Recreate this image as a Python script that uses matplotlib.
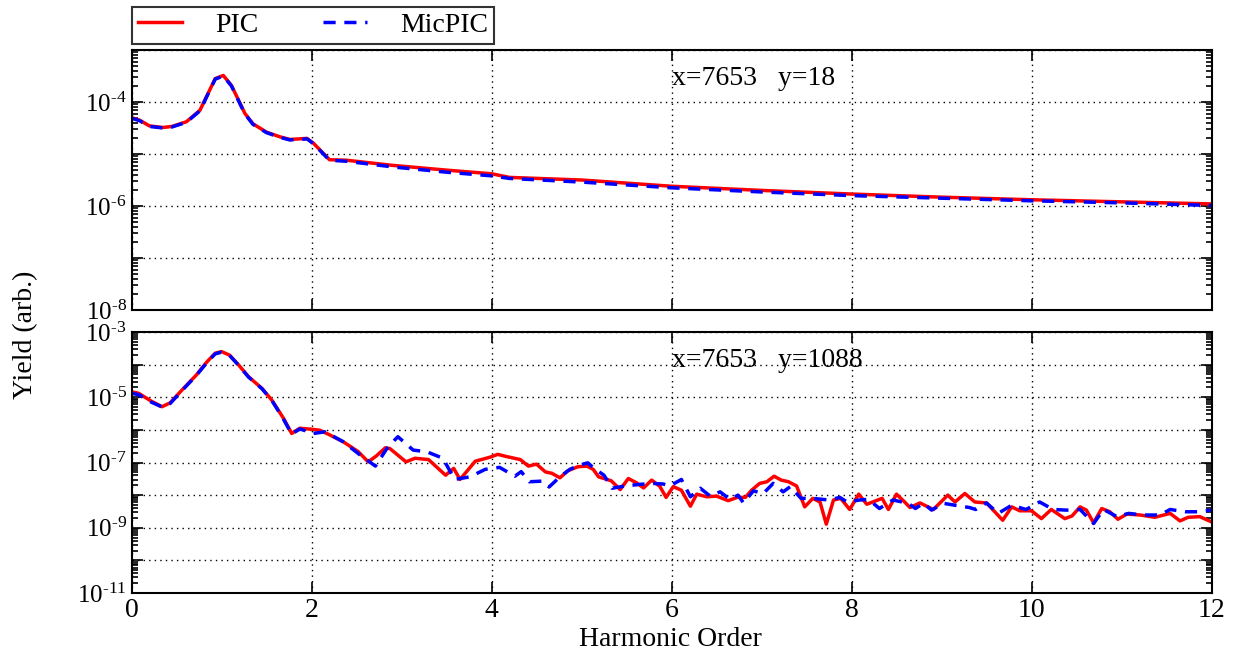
import numpy as np
import matplotlib
matplotlib.use("Agg")
import matplotlib.pyplot as plt
from matplotlib.ticker import LogLocator, FuncFormatter, NullFormatter, MultipleLocator
from matplotlib.transforms import blended_transform_factory

plt.rcParams["font.family"] = ["Liberation Serif", "DejaVu Serif"]
plt.rcParams["mathtext.fontset"] = "custom"
plt.rcParams["mathtext.rm"] = "Liberation Serif"
plt.rcParams["mathtext.it"] = "Liberation Serif"

# ---- top panel (x=7653, y=18), log10 yield ----
top_pic_x = [0.00, 0.09, 0.20, 0.35, 0.45, 0.61, 0.76, 0.93, 1.02, 1.11, 1.26, 1.35, 1.50,
             1.65, 1.76, 1.95, 2.02, 2.20, 2.39, 2.91, 3.5, 4.0, 4.2, 5.0, 6.0, 7.0, 8.0,
             9.0, 10.0, 11.0, 12.0]
top_pic_l = [-4.30, -4.35, -4.46, -4.49, -4.47, -4.38, -4.16, -3.55, -3.49, -3.68, -4.22, -4.42,
             -4.58, -4.67, -4.72, -4.70, -4.79, -5.11, -5.12, -5.22, -5.31, -5.38, -5.45,
             -5.50, -5.62, -5.70, -5.77, -5.83, -5.88, -5.92, -5.96]
top_mic_x = top_pic_x
top_mic_l = [-4.31, -4.36, -4.47, -4.50, -4.48, -4.39, -4.17, -3.56, -3.50, -3.69, -4.23, -4.43,
             -4.59, -4.68, -4.73, -4.71, -4.80, -5.12, -5.14, -5.25, -5.35, -5.42, -5.47,
             -5.54, -5.65, -5.73, -5.80, -5.85, -5.90, -5.94, -5.99]

# ---- bottom panel (x=7653, y=1088), log10 yield ----
bot_pic_x = [0.00, 0.08, 0.22, 0.34, 0.43, 0.56, 0.72, 0.84, 0.93, 1.00, 1.09, 1.19, 1.30,
             1.45, 1.56, 1.69, 1.78, 1.87, 2.00, 2.09, 2.20, 2.35, 2.52, 2.63, 2.72, 2.82,
             2.87, 3.05, 3.15, 3.30, 3.49, 3.58, 3.65, 3.82, 3.98, 4.07, 4.17, 4.32, 4.41,
             4.50, 4.60, 4.67, 4.76, 4.85, 4.96, 5.06, 5.13, 5.19, 5.33, 5.43, 5.52, 5.61,
             5.69, 5.78, 5.87, 5.94, 6.02, 6.11, 6.21, 6.28, 6.39, 6.50, 6.63, 6.73, 6.82,
             6.89, 6.98, 7.06, 7.14, 7.22, 7.30, 7.39, 7.48, 7.57, 7.65, 7.72, 7.80, 7.88,
             7.98, 8.08, 8.17, 8.34, 8.41, 8.50, 8.59, 8.65, 8.76, 8.91, 9.07, 9.15, 9.26,
             9.37, 9.50, 9.68, 9.78, 9.87, 10.00, 10.11, 10.22, 10.37, 10.45, 10.54, 10.61,
             10.69, 10.78, 10.87, 10.96, 11.06, 11.21, 11.37, 11.54, 11.65, 11.74, 11.87, 12.00]
bot_pic_l = [-4.83, -4.88, -5.12, -5.29, -5.17, -4.78, -4.32, -3.91, -3.65, -3.60, -3.71, -4.01,
             -4.37, -4.73, -5.09, -5.65, -6.11, -5.95, -5.98, -6.01, -6.15, -6.36, -6.67,
             -6.98, -6.80, -6.55, -6.57, -6.98, -6.87, -6.91, -7.39, -7.18, -7.52, -6.96,
             -6.84, -6.75, -6.82, -6.91, -7.11, -7.05, -7.29, -7.33, -7.47, -7.25, -7.13,
             -7.11, -7.21, -7.44, -7.56, -7.83, -7.49, -7.62, -7.78, -7.54, -7.73, -8.07,
             -7.74, -7.85, -8.34, -7.97, -8.05, -8.03, -8.17, -8.07, -8.07, -7.85, -7.64,
             -7.59, -7.42, -7.54, -7.59, -7.72, -8.36, -8.10, -8.21, -8.89, -8.15, -8.10,
             -8.44, -7.97, -8.28, -8.10, -8.44, -7.97, -8.21, -8.38, -8.24, -8.44, -8.00,
             -8.21, -7.95, -8.21, -8.24, -8.77, -8.36, -8.48, -8.48, -8.72, -8.44, -8.72,
             -8.64, -8.36, -8.46, -8.85, -8.41, -8.51, -8.74, -8.58, -8.61, -8.68, -8.56,
             -8.79, -8.68, -8.66, -8.82]
bot_mic_x = [0.00, 0.08, 0.22, 0.34, 0.43, 0.56, 0.72, 0.84, 0.93, 1.00, 1.09, 1.19, 1.30,
             1.45, 1.56, 1.69, 1.78, 1.87, 2.02, 2.15, 2.35, 2.54, 2.71, 2.85, 2.96, 3.13,
             3.28, 3.46, 3.59, 3.76, 3.93, 4.09, 4.26, 4.33, 4.42, 4.57, 4.64, 4.76, 4.87,
             4.98, 5.07, 5.14, 5.25, 5.34, 5.48, 5.65, 5.79, 5.91, 5.98, 6.11, 6.21, 6.32,
             6.43, 6.54, 6.65, 6.74, 6.80, 6.91, 7.02, 7.13, 7.24, 7.32, 7.44, 7.57, 7.75,
             7.87, 7.95, 8.09, 8.19, 8.31, 8.46, 8.63, 8.71, 8.80, 8.89, 9.02, 9.15, 9.31,
             9.38, 9.50, 9.63, 9.78, 9.94, 10.09, 10.24, 10.39, 10.54, 10.69, 10.80, 10.95,
             11.08, 11.24, 11.43, 11.54, 11.71, 11.87, 12.00]
bot_mic_l = [-4.88, -4.92, -5.15, -5.30, -5.19, -4.80, -4.33, -3.93, -3.67, -3.62, -3.72, -4.02,
             -4.38, -4.74, -5.10, -5.68, -6.13, -5.97, -6.11, -6.06, -6.36, -6.77, -7.11,
             -6.52, -6.21, -6.62, -6.67, -6.87, -7.52, -7.44, -7.21, -7.15, -7.42, -7.28,
             -7.59, -7.57, -7.75, -7.44, -7.21, -7.08, -7.01, -7.18, -7.39, -7.79, -7.72,
             -7.67, -7.64, -7.66, -7.72, -7.52, -8.05, -7.79, -8.03, -7.90, -8.13, -8.00,
             -8.24, -7.87, -7.95, -7.64, -7.90, -7.74, -8.10, -8.10, -8.15, -8.07, -8.21,
             -8.15, -8.13, -8.41, -8.15, -8.25, -8.41, -8.25, -8.46, -8.25, -8.31, -8.38,
             -8.44, -8.24, -8.56, -8.31, -8.44, -8.21, -8.44, -8.46, -8.44, -8.87, -8.44,
             -8.66, -8.56, -8.61, -8.61, -8.44, -8.51, -8.51, -8.46]

panel_labels = ["x=7653   y=18", "x=7653   y=1088"]
xticks = [0, 2, 4, 6, 8, 10, 12]

W, H = 1235, 657
fig = plt.figure(figsize=(W / 100, H / 100), dpi=100)
ax_top = fig.add_axes([131.5 / W, 1 - 310 / H, 1080 / W, 260 / H])
ax_bot = fig.add_axes([131.5 / W, 1 - 593 / H, 1080 / W, 261 / H])

red_kw = dict(color="red", lw=2.5, solid_joinstyle="round")
blue_kw = dict(color="blue", lw=2.5, ls=(0, (3.5, 2.5)))


def exp_fmt(keep):
    # labels like "10-4" with a raised hyphen exponent, every second decade only
    def f(v, pos):
        e = int(round(np.log10(v)))
        if e % 2 != keep:
            return ""
        return "$\\mathregular{10^{\u2010%d}}$" % abs(e)
    return f


for ax, (xp, lp, xm, lm), ylim, keep, label in [
        (ax_top, (top_pic_x, top_pic_l, top_mic_x, top_mic_l), (1e-8, 1e-3), 0, panel_labels[0]),
        (ax_bot, (bot_pic_x, bot_pic_l, bot_mic_x, bot_mic_l), (1e-11, 1e-3), 1, panel_labels[1])]:
    ax.plot(xp, 10.0 ** np.array(lp), label="PIC", **red_kw)
    ax.plot(xm, 10.0 ** np.array(lm), label="MicPIC", **blue_kw)
    ax.set_yscale("log")
    ax.set_ylim(*ylim)
    ax.set_xlim(0, 12)
    ax.xaxis.set_major_locator(MultipleLocator(2))
    ax.yaxis.set_major_locator(LogLocator(base=10, numticks=20))
    ax.yaxis.set_minor_locator(LogLocator(base=10, subs=np.arange(2, 10), numticks=20))
    ax.yaxis.set_major_formatter(FuncFormatter(exp_fmt(keep)))
    ax.yaxis.set_minor_formatter(NullFormatter())
    ax.grid(True, which="major", color="black", ls=(0, (1, 3)), lw=1.0)
    ax.tick_params(which="both", direction="in", top=True, right=True, width=1.2)
    ax.tick_params(axis="y", labelsize=18)
    ax.tick_params(axis="x", labelsize=20)
    ax.tick_params(which="major", length=8)
    ax.tick_params(which="minor", length=4)
    for sp in ax.spines.values():
        sp.set_linewidth(1.5)
    tr = blended_transform_factory(ax.transData, ax.transAxes)
    ax.text(6.0, 0.89, label, transform=tr, ha="left", va="center", fontsize=20)

ax_top.tick_params(labelbottom=False)
ax_bot.set_xticks(xticks)
ax_bot.set_xticklabels([str(t) for t in xticks])

leg = ax_top.legend(loc="lower left", bbox_to_anchor=(0.0, 1.022), ncol=2, fontsize=20,
                    frameon=True, fancybox=False, edgecolor="black", handlelength=1.6,
                    columnspacing=2.3, handletextpad=1.2, borderpad=0.22, borderaxespad=0.0)
leg.get_frame().set_linewidth(1.5)

fig.text(26 / W, 1 - 335 / H, "Yield (arb.)", rotation=90, ha="center", va="center", fontsize=20)
fig.text(670 / W, 1 - 640 / H, "Harmonic Order", ha="center", va="center", fontsize=20)

fig.savefig("out.png", dpi=100)
